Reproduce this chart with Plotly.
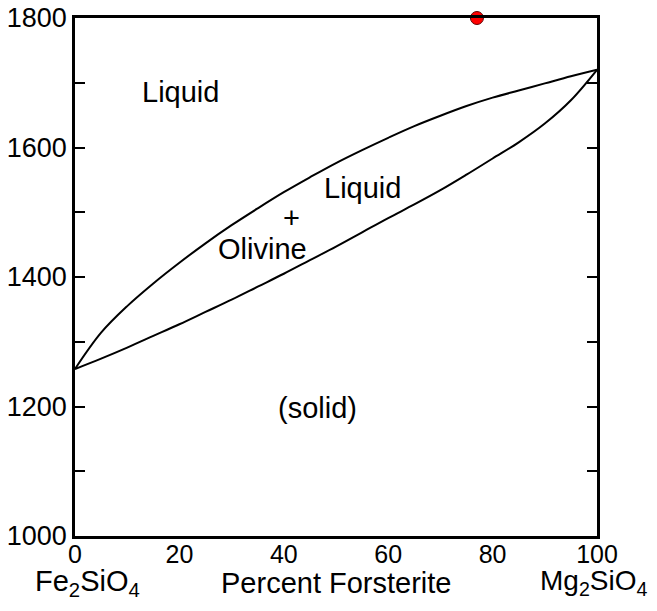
import plotly.graph_objects as go

# Composition (percent forsterite)
composition = [0, 5, 10, 15, 20, 25, 30, 35, 40, 45, 50, 55, 60, 65, 70, 75, 80, 85, 90, 95, 100]
# Liquidus temperature (°C)
liquidus = [1258, 1314, 1355, 1390, 1422, 1452, 1480, 1506, 1531, 1554, 1576,
            1596, 1615, 1633, 1649, 1664, 1677, 1688, 1699, 1710, 1720]
# Solidus temperature (°C)
solidus = [1258, 1274, 1291, 1309, 1327, 1346, 1365, 1385, 1405, 1426, 1447,
           1469, 1491, 1512, 1534, 1558, 1583, 1608, 1637, 1673, 1720]

# Red marker
marker_x = [77]
marker_y = [1800]

y_tickvals = [1000, 1200, 1400, 1600, 1800]
x_tickvals = [0, 20, 40, 60, 80, 100]

FONT = "Liberation Sans, Arial, sans-serif"

fig = go.Figure()
fig.add_trace(go.Scatter(x=composition, y=liquidus, mode="lines",
                         line=dict(color="black", width=2, shape="spline", smoothing=1.0),
                         showlegend=False, hoverinfo="skip"))
fig.add_trace(go.Scatter(x=composition, y=solidus, mode="lines",
                         line=dict(color="black", width=2, shape="spline", smoothing=1.0),
                         showlegend=False, hoverinfo="skip"))
fig.add_trace(go.Scatter(x=marker_x, y=marker_y, mode="markers",
                         marker=dict(color="#ff0000", size=13, line=dict(color="#600000", width=1)),
                         cliponaxis=False, showlegend=False))

labels = [
    ("Liquid", 20.3, 1686),
    ("Liquid", 55.0, 1538),
    ("+", 41.4, 1491),
    ("Olivine", 36.0, 1443),
    ("(solid)", 46.4, 1198),
]
for txt, x, y in labels:
    fig.add_annotation(x=x, y=y, text=txt, showarrow=False,
                       font=dict(family=FONT, size=29, color="black"))

bottom_y = -0.09
fig.add_annotation(x=2.3, y=bottom_y, xref="x", yref="paper", yanchor="middle",
                   text="Fe<sub>2</sub>SiO<sub>4</sub>", showarrow=False,
                   font=dict(family=FONT, size=29, color="black"))
fig.add_annotation(x=100, y=bottom_y, xref="x", yref="paper", yanchor="middle", xshift=-3,
                   text="Mg<sub>2</sub>SiO<sub>4</sub>", showarrow=False,
                   font=dict(family=FONT, size=28, color="black"))
fig.add_annotation(x=50, y=bottom_y, xref="x", yref="paper", yanchor="middle",
                   text="Percent Forsterite", showarrow=False,
                   font=dict(family=FONT, size=29, color="black"))

fig.update_xaxes(range=[0, 100], tickvals=x_tickvals, ticks="", showline=True,
                 linecolor="black", linewidth=2.5, mirror=True, showgrid=False,
                 zeroline=False, automargin=False, ticklabelstandoff=-6,
                 ticklabeloverflow="allow",
                 tickfont=dict(family=FONT, size=25, color="black"))
fig.update_yaxes(range=[1000, 1800], tickvals=y_tickvals,
                 ticks="inside", ticklen=10, tickwidth=2, tickcolor="black",
                 minor=dict(dtick=100, ticks="inside", ticklen=10, tickwidth=2,
                            tickcolor="black", showgrid=False),
                 showline=True, linecolor="black", linewidth=2.5, mirror="ticks",
                 showgrid=False, zeroline=False, automargin=False,
                 ticklabeloverflow="allow",
                 tickfont=dict(family=FONT, size=27, color="black"))

fig.update_layout(width=649, height=603, margin=dict(l=67, r=60, t=10, b=75),
                  plot_bgcolor="white", paper_bgcolor="white",
                  font=dict(family=FONT))

fig.write_html("out.html")
